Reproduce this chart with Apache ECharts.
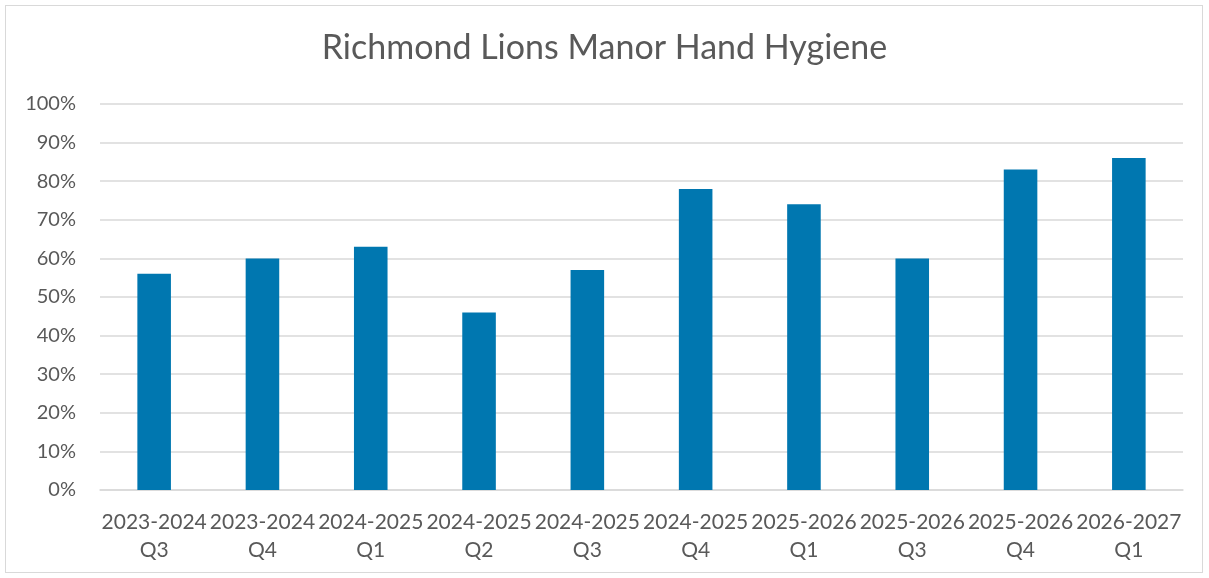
<!DOCTYPE html>
<html>
<head>
<meta charset="utf-8">
<script src="https://cdn.jsdelivr.net/npm/echarts@6/dist/echarts.min.js"></script>
<style>
  html, body { margin: 0; padding: 0; background: #fff; }
  #frame { position: absolute; left: 5px; top: 5px; width: 1198px; height: 568px; border: 1.5px solid #d9d9d9; box-sizing: border-box; }
  #myChart { width: 1209px; height: 578px; }
</style>
</head>
<body>
<div id="frame"></div>
<div id="myChart"></div>
<script>
// 季度标签和手卫生合规率
var quarters = ["2023-2024\nQ3", "2023-2024\nQ4", "2024-2025\nQ1", "2024-2025\nQ2", "2024-2025\nQ3",
  "2024-2025\nQ4", "2025-2026\nQ1", "2025-2026\nQ3", "2025-2026\nQ4", "2026-2027\nQ1"];
var compliance = [56, 60, 63, 46, 57, 78, 74, 60, 83, 86];
var yTicks = [0, 10, 20, 30, 40, 50, 60, 70, 80, 90, 100];

var myChart = echarts.init(document.getElementById("myChart"));
myChart.setOption({
  animation: false,
  title: {
    text: "Richmond Lions Manor Hand Hygiene",
    left: "center",
    top: 26,
    textStyle: { fontFamily: "Lato", fontSize: 34, fontWeight: "normal", color: "#595959" }
  },
  grid: { left: 100, right: 26, top: 104, bottom: 88 },
  xAxis: {
    type: "category",
    data: quarters,
    axisTick: { show: false },
    axisLine: { lineStyle: { color: "#d9d9d9", width: 1.5 } },
    axisLabel: {
      interval: 0,
      margin: 18,
      fontFamily: "Lato",
      fontSize: 21,
      lineHeight: 28,
      color: "#595959"
    }
  },
  yAxis: {
    type: "value",
    min: yTicks[0],
    max: yTicks[yTicks.length - 1],
    interval: 10,
    axisLine: { show: false },
    axisTick: { show: false },
    splitLine: { lineStyle: { color: "#d9d9d9", width: 1.5 } },
    axisLabel: {
      formatter: "{value}%",
      margin: 24,
      fontFamily: "Lato",
      fontSize: 20,
      color: "#595959"
    }
  },
  series: [{
    type: "bar",
    data: compliance,
    barWidth: "31%",
    itemStyle: { color: "#0077B0" }
  }]
});
</script>
</body>
</html>
